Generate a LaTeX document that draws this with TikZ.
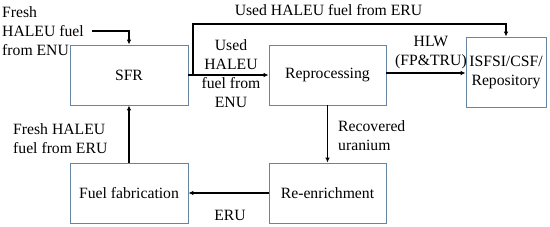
\documentclass[tikz,border=0pt]{standalone}
\usepackage{fontspec}
\setmainfont{Liberation Serif}
\usetikzlibrary{arrows.meta, calc, positioning}
\definecolor{Box_Blue}{HTML}{6585A3}

\begin{document}
\begin{tikzpicture}[x=1pt, y=-1pt,
    every node/.style={font=\fontsize{15.7}{19}\selectfont, inner sep=0pt},
    unit/.style={draw=Box_Blue, line width=0.8pt, align=center},
    flow/.style={line width=1.6pt, -{Latex[length=5pt, width=4.5pt]}}]
    \useasboundingbox (0,0) rectangle (550,227);
    % process units
    \node[unit, minimum width=118pt, minimum height=60pt] (sfr) at (129,75) {SFR};
    \node[unit, minimum width=117pt, minimum height=60pt] (rep) at (327.5,75) {Reprocessing};
    \node[unit, minimum width=80pt, minimum height=70pt] (isf) at (506,72) {ISFSI/CSF/\\Repository};
    \node[unit, minimum width=118pt, minimum height=60pt] (fab) at (129,193) {Fuel fabrication};
    \node[unit, minimum width=117pt, minimum height=60pt] (enr) at (327.5,193) {Re-enrichment};
    % labels
    \node[anchor=west, align=left] (lenu) at (2,31) {Fresh\\HALEU fuel\\from ENU};
    \node[align=center] (lused) at (231,73.5) {Used\\HALEU\\fuel from\\ENU};
    \node (leru) at (328.5,10) {Used HALEU fuel from ERU};
    \node[align=center] (lhlw) at (431,53) {HLW\\(FP\&TRU)};
    \node[anchor=west, align=left] (lrec) at (338,136) {Recovered\\uranium};
    \node (lru) at (230,215) {ERU};
    \node[anchor=west, align=left] (lfab) at (13,139) {Fresh HALEU\\fuel from ERU};
    % flows
    \coordinate (in) at (92,31);
    \coordinate (br) at (193,75);
    \draw[flow] (in) -| (sfr.north);
    \draw[flow] (sfr.east) -- (rep.west);
    \draw[flow] (br) -- ++(0,-51) -| (isf.north);
    \draw[flow] ($(rep.east)+(0,-2)$) -- ($(rep.east -| isf.west)+(0,-2)$);
    \draw[flow] (rep.south) -- (enr.north);
    \draw[flow] (enr.west) -- (fab.east);
    \draw[flow] (fab.north) -- (sfr.south);
\end{tikzpicture}
\end{document}
